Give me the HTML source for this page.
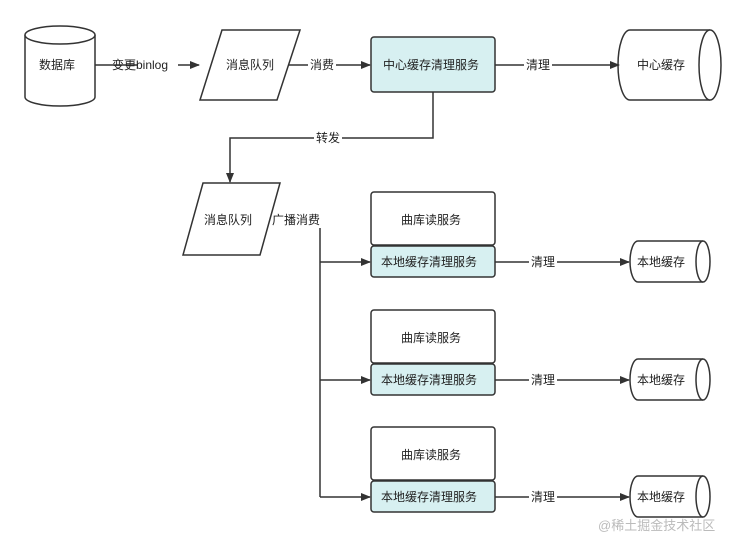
<!DOCTYPE html>
<html><head><meta charset="utf-8"><style>
body{margin:0;background:#fff;width:745px;height:541px;overflow:hidden}
svg text{font-family:"Liberation Sans","Noto Sans CJK SC",sans-serif;font-size:12px;fill:#222}
</style></head><body>
<svg width="745" height="541" viewBox="0 0 745 541">
<defs><marker id="a" markerWidth="10" markerHeight="8" refX="9" refY="4" orient="auto" markerUnits="userSpaceOnUse"><path d="M0,0L10,4L0,8z" fill="#333"/></marker></defs>
<g stroke="#333" stroke-width="1.5" fill="none">
<!-- DB -->
<path d="M25,35 L25,97 A35,9 0 0 0 95,97 L95,35" fill="#fff"/>
<ellipse cx="60" cy="35" rx="35" ry="9" fill="#fff"/>
<!-- MQ1 -->
<path d="M222,30 L300,30 L277,100 L200,100 Z" fill="#fff"/>
<!-- central service -->
<rect x="371" y="37" width="124" height="55" rx="3" fill="#d7f0f1"/>
<!-- central cache -->
<path d="M710,30 L630,30 A12,35 0 0 0 630,100 L710,100" fill="#fff"/>
<ellipse cx="710" cy="65" rx="11" ry="35" fill="#fff"/>
<!-- lines -->
<line x1="95" y1="65" x2="199" y2="65" marker-end="url(#a)"/>
<line x1="288" y1="65" x2="370" y2="65" marker-end="url(#a)"/>
<line x1="495" y1="65" x2="619" y2="65" marker-end="url(#a)"/>
<path d="M433,92 L433,138 L230,138 L230,182" marker-end="url(#a)"/>
<!-- MQ2 -->
<path d="M203,183 L280,183 L260,255 L183,255 Z" fill="#fff"/>
<line x1="320" y1="228" x2="320" y2="497"/>
<line x1="320" y1="262" x2="370" y2="262" marker-end="url(#a)"/>
<line x1="320" y1="380" x2="370" y2="380" marker-end="url(#a)"/>
<line x1="320" y1="497" x2="370" y2="497" marker-end="url(#a)"/>
</g>
<g stroke="#333" stroke-width="1.5">
<g id="grp">
<rect x="371" y="192" width="124" height="53" rx="3" fill="#fff"/>
<rect x="371" y="246" width="124" height="31" rx="3" fill="#d7f0f1"/>
<line x1="495" y1="262" x2="629" y2="262" marker-end="url(#a)"/>
<path d="M703,241 L638,241 A8,20.5 0 0 0 638,282 L703,282" fill="#fff"/>
<ellipse cx="703" cy="261.5" rx="7" ry="20.5" fill="#fff"/>
</g>
<use href="#grp" y="118"/>
<use href="#grp" y="235"/>
</g>
<rect x="138" y="57" width="40" height="16" fill="#fff"/>
<text x="112" y="69">变更binlog</text>
<text x="226" y="69">消息队列</text>
<rect x="308" y="57" width="28" height="16" fill="#fff"/>
<text x="310" y="69">消费</text>
<text x="383" y="69">中心缓存清理服务</text>
<rect x="524" y="57" width="28" height="16" fill="#fff"/>
<text x="526" y="69">清理</text>
<text x="637" y="69">中心缓存</text>
<text x="39" y="69">数据库</text>
<rect x="314" y="130" width="28" height="16" fill="#fff"/>
<text x="316" y="142">转发</text>
<text x="204" y="224">消息队列</text>
<text x="272" y="224">广播消费</text>
<g id="lbl">
<text x="401" y="224">曲库读服务</text>
<text x="381" y="266">本地缓存清理服务</text>
<rect x="529" y="254" width="28" height="16" fill="#fff"/>
<text x="531" y="266">清理</text>
<text x="637" y="266">本地缓存</text>
</g>
<use href="#lbl" y="118"/>
<use href="#lbl" y="235"/>
<text x="598" y="530" style="font-size:13px;fill:#bbb">@稀土掘金技术社区</text>
</svg>
</body></html>
